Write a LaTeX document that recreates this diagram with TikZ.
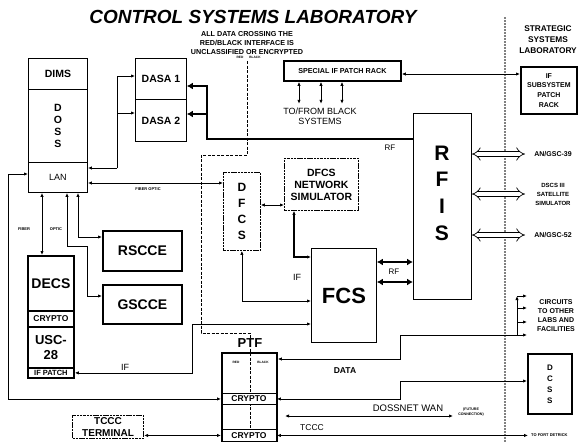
\documentclass[tikz,border=0pt]{standalone}
\usepackage{fontspec}
\setmainfont{Liberation Sans}
\usetikzlibrary{arrows.meta, positioning, calc}
\newcommand{\setfs}[2]{\fontsize{#1}{#2}\selectfont}
\tikzset{
  box/.style={draw=black, line width=0.9pt, inner sep=0pt, anchor=north west, align=center, font=\bfseries},
  heavy_box/.style={box, line width=1.8pt},
  scan_box/.style={box, line width=0.8pt, dash pattern=on 2.5pt off 0.8pt},
  tag/.style={inner sep=0pt, align=center},
  link/.style={line width=0.8pt},
  arrow/.style={link, -{Latex[length=4pt,width=3.4pt]}},
  biarrow/.style={link, {Latex[length=4pt,width=3.4pt]}-{Latex[length=4pt,width=3.4pt]}},
  rf_bus/.style={line width=2.4pt, -{Latex[length=6pt,width=7pt]}},
  rf_biarrow/.style={line width=2pt, {Latex[length=6pt,width=7pt]}-{Latex[length=6pt,width=7pt]}},
  hollow_arrow/.style={double, double distance=4pt, line width=0.7pt, {Implies}-{Implies}},
  red_black/.style={line width=0.7pt, dash pattern=on 3pt off 1.5pt},
  lab_border/.style={line width=1.6pt, line cap=round, dash pattern=on 0pt off 3pt}
}

\begin{document}
\begin{tikzpicture}[x=1pt, y=-1pt]
  \useasboundingbox[fill=white] (0,0) rectangle (579,442);

  % Title
  \node[tag, font=\bfseries\itshape\setfs{19}{22}] (title) at (253,17) {CONTROL SYSTEMS LABORATORY};
  \node[tag, font=\bfseries\setfs{7.2}{8.6}] (note) at (247,43) {ALL DATA CROSSING THE\\RED/BLACK INTERFACE IS\\UNCLASSIFIED OR ENCRYPTED};
  \node[tag, font=\bfseries\setfs{3.2}{4}] (red_top) at (240,57.5) {RED};
  \node[tag, font=\bfseries\setfs{3.2}{4}] (black_top) at (255,57.5) {BLACK};
  \node[tag, font=\bfseries\setfs{8.3}{11}] (strategic) at (548,40) {STRATEGIC\\SYSTEMS\\LABORATORY};

  % Lab borders
  \coordinate (border_top) at (505,18);
  \coordinate (border_bot) at (505,442);
  \draw[lab_border] (border_top) -- (border_bot);
  \coordinate (rb_top) at (247,61);
  \coordinate (rb_a) at (247,155);
  \coordinate (rb_b) at (201,155);
  \coordinate (rb_c) at (201,333);
  \coordinate (rb_d) at (250,333);
  \coordinate (rb_bot) at (250,441);
  \draw[red_black] (rb_top) -- (rb_a) -- (rb_b) -- (rb_c) -- (rb_d) -- (rb_bot);

  % DOSS stack
  \node[box, minimum width=59, minimum height=31, font=\bfseries\setfs{10.5}{12}] (dims) at (28,58) {DIMS};
  \node[box, minimum width=59, minimum height=73, font=\bfseries\setfs{10.5}{12}] (doss) at (28,89) {D\\O\\S\\S};
  \node[box, minimum width=59, minimum height=30, font=\setfs{9}{10}] (lan) at (28,162) {LAN};

  % DASA
  \node[box, minimum width=51, minimum height=41, font=\bfseries\setfs{10.5}{12}] (dasa1) at (135,58) {DASA 1};
  \node[box, minimum width=51, minimum height=42, font=\bfseries\setfs{10.5}{12}] (dasa2) at (135,99) {DASA 2};

  % Patch racks
  \node[heavy_box, minimum width=117, minimum height=20, font=\bfseries\setfs{7.2}{8}] (spec_rack) at (283,60) {SPECIAL IF PATCH RACK};
  \node[tag, font=\setfs{9}{10}] (black_sys) at (320,116) {TO/FROM BLACK\\SYSTEMS};
  \node[heavy_box, minimum width=56, minimum height=47, font=\bfseries\setfs{7}{9.7}] (if_rack) at (520,66) {IF\\SUBSYSTEM\\PATCH\\RACK};

  % RFIS
  \node[box, minimum width=58, minimum height=186] (rfis) at (413,113) {};
  \node[tag, font=\bfseries\setfs{21}{26.7}] (rfis_lbl) at (442,193) {R\\F\\I\\S};
  \node[tag, font=\bfseries\setfs{7}{8}] (gsc39) at (553,154) {AN/GSC-39};
  \node[tag, font=\bfseries\setfs{6}{9}] (dscs) at (553,194) {DSCS III\\SATELLITE\\SIMULATOR};
  \node[tag, font=\bfseries\setfs{7}{8}] (gsc52) at (553,235) {AN/GSC-52};

  % DFCS and FCS
  \node[scan_box, minimum width=37, minimum height=78, font=\bfseries\setfs{12}{16}] (dfcs) at (223,172) {D\\F\\C\\S};
  \node[scan_box, minimum width=74, minimum height=52, font=\bfseries\setfs{10.5}{12}] (dfcs_sim) at (284,158) {DFCS\\NETWORK\\SIMULATOR};
  \node[box, minimum width=65, minimum height=94, font=\bfseries\setfs{22}{24}] (fcs) at (311,248) {FCS};

  % Left side
  \node[heavy_box, minimum width=79, minimum height=40, font=\bfseries\setfs{14}{16}] (rscce) at (102,230) {RSCCE};
  \node[heavy_box, minimum width=79, minimum height=39, font=\bfseries\setfs{14}{16}] (gscce) at (102,284) {GSCCE};
  \node[heavy_box, minimum width=46, minimum height=55, font=\bfseries\setfs{14}{16}] (decs) at (27,255) {DECS};
  \node[heavy_box, minimum width=46, minimum height=16, font=\bfseries\setfs{8.5}{9}] (decs_crypto) at (27,310) {CRYPTO};
  \node[heavy_box, minimum width=46, minimum height=41, font=\bfseries\setfs{13}{15}] (usc) at (27,326) {USC-\\28};
  \node[heavy_box, minimum width=46, minimum height=10, font=\bfseries\setfs{7.5}{8}] (if_patch) at (27,367) {IF PATCH};
  \node[scan_box, line width=1.1pt, minimum width=71, minimum height=23, font=\bfseries\setfs{10}{12}] (tccc_term) at (72,415) {TCCC\\TERMINAL};

  % PTF
  \node[box, fill=white, minimum width=55, minimum height=11, font=\bfseries\setfs{8.5}{9}] (crypto_a) at (221,393) {CRYPTO};
  \node[box, fill=white, minimum width=55, minimum height=12, font=\bfseries\setfs{8.5}{9}] (crypto_b) at (221,429) {CRYPTO};
  \node[heavy_box, minimum width=55, minimum height=89] (ptf) at (221,352) {};
  \node[tag, font=\bfseries\setfs{13}{14}] (ptf_lbl) at (250,343) {PTF};
  \node[tag, font=\bfseries\setfs{3.2}{4}] (red_ptf) at (236,362) {RED};
  \node[tag, font=\bfseries\setfs{3.2}{4}] (black_ptf) at (263,362) {BLACK};
  \node[heavy_box, minimum width=44, minimum height=60, font=\bfseries\setfs{8}{11}] (dcss) at (527,353) {D\\C\\S\\S};
  \node[tag, font=\bfseries\setfs{7}{9}] (circuits) at (556,316) {CIRCUITS\\TO OTHER\\LABS AND\\FACILITIES};

  % Line labels
  \node[tag, font=\bfseries\setfs{4}{5}] (fiber_h) at (148,189) {FIBER OPTIC};
  \node[tag, font=\bfseries\setfs{4}{5}] (fiber_l) at (24,229) {FIBER};
  \node[tag, font=\bfseries\setfs{4}{5}] (fiber_r) at (56,229) {OPTIC};
  \node[tag, font=\setfs{8}{9}] (rf_lbl) at (390,148) {RF};
  \node[tag, font=\setfs{8}{9}] (rf_fcs) at (394,272) {RF};
  \node[tag, font=\setfs{9}{10}] (if_fcs) at (297,277) {IF};
  \node[tag, font=\setfs{9}{10}] (if_usc) at (125,367) {IF};
  \node[tag, font=\bfseries\setfs{8.5}{10}] (data_lbl) at (345,371) {DATA};
  \node[tag, font=\setfs{9.5}{10}] (wan_lbl) at (408,408) {DOSSNET WAN};
  \node[tag, font=\bfseries\setfs{3.6}{5}] (future_lbl) at (471,412) {(FUTURE\\CONNECTION)};
  \node[tag, font=\setfs{8.5}{10}] (tccc_lbl) at (312,428) {TCCC};
  \node[tag, anchor=west, font=\bfseries\setfs{4}{5}] (fort_lbl) at (531,435) {TO FORT DETRICK};

  % DOSS links
  \coordinate (dasa_bus) at (117,168);
  \coordinate (dasa1_in) at ($(dasa1.north west)+(0,18)$);
  \coordinate (dasa2_in) at ($(dasa2.north west)+(0,14)$);
  \draw[arrow] (dasa_bus) -- (dasa_bus -| lan.east);
  \draw[arrow] (dasa_bus) |- (dasa1_in);
  \draw[arrow] (dasa_bus |- dasa2_in) -- (dasa2_in);

  % RF bus
  \coordinate (rf_corner) at (207,139);
  \coordinate (dasa1_rf) at ($(dasa1.north east)+(0,28)$);
  \coordinate (dasa2_rf) at ($(dasa2.north east)+(0,15)$);
  \draw[rf_bus] (rfis.west |- rf_corner) -- (rf_corner) |- (dasa1_rf);
  \draw[rf_bus] (rf_corner |- dasa2_rf) -- (dasa2_rf);

  % Patch rack links
  \foreach \dx in {16,38,59} {
    \draw[biarrow] ($(spec_rack.south west)+(\dx,0)$) -- ++(0,22);
  }
  \coordinate (rack_link) at ($(spec_rack.north east)+(0,14)$);
  \draw[biarrow] (rack_link) -- (rack_link -| if_rack.west);

  % External links
  \coordinate (ext_a) at (525,154);
  \coordinate (ext_b) at (525,194);
  \coordinate (ext_c) at (525,235);
  \foreach \ext in {ext_a,ext_b,ext_c} {
    \draw[hollow_arrow] (\ext -| rfis.east) -- (\ext);
  }

  % DFCS links
  \coordinate (lan_fo) at ($(lan.north east)+(0,21)$);
  \draw[biarrow] (lan_fo) -- (lan_fo -| dfcs.west);
  \coordinate (dfcs_sim_in) at ($(dfcs.north east)+(0,33)$);
  \draw[biarrow] (dfcs_sim_in) -- (dfcs_sim_in -| dfcs_sim.west);
  \draw[biarrow, line width=1.4pt] ($(dfcs_sim.south west)+(10,0)$) |- ($(fcs.north west)+(0,9)$);
  \draw[biarrow] (dfcs.south) |- ($(fcs.north west)+(0,53)$);
  \coordinate (fcs_rf1) at ($(fcs.north east)+(0,14)$);
  \coordinate (fcs_rf2) at ($(fcs.north east)+(0,34)$);
  \draw[rf_biarrow] (fcs_rf1) -- (fcs_rf1 -| rfis.west);
  \draw[rf_biarrow] (fcs_rf2) -- (fcs_rf2 -| rfis.west);

  % LAN links
  \coordinate (lan_fiber) at ($(lan.south west)+(14,0)$);
  \draw[biarrow] (lan_fiber) -- (lan_fiber |- decs.north);
  \coordinate (lan_rs) at ($(lan.south west)+(50,0)$);
  \draw[biarrow] (lan_rs) |- ($(rscce.north west)+(0,7)$);
  \coordinate (lan_gs) at ($(lan.south west)+(39,0)$);
  \coordinate (gs_a) at (67,246);
  \coordinate (gs_b) at (87,246);
  \draw[biarrow] (lan_gs) -- (gs_a) -- (gs_b) |- ($(gscce.north west)+(0,12)$);

  % IF and loop links
  \coordinate (if_bend) at (192,324);
  \draw[biarrow] (if_patch.east) -| (if_bend) -- (if_bend -| fcs.west);
  \coordinate (loop_nw) at (8,174);
  \draw[biarrow] (loop_nw -| lan.west) -- (loop_nw) |- (crypto_a.west);
  \draw[biarrow] (crypto_b.west) -- (crypto_b.west -| tccc_term.east);

  % PTF links
  \coordinate (data_step) at (400,335);
  \coordinate (circ_top) at (517,296);
  \coordinate (circ_base) at (517,335);
  \draw[arrow] (circ_base) -- (circ_top);
  \draw[biarrow] ($(ptf.north east)+(0,7)$) -| (data_step) -- ($(circ_base)+(10,0)$);
  \foreach \dy in {0,12,26} {
    \draw[arrow] ($(circ_top)+(0,\dy)$) -- ++(10,0);
  }
  \coordinate (dcss_step) at (400,381);
  \draw[biarrow] (crypto_a.east) -| (dcss_step) -- (dcss_step -| dcss.west);
  \coordinate (wan_w) at (285,416);
  \coordinate (wan_e) at (453,416);
  \draw[biarrow] (wan_w) -- (wan_e);
  \coordinate (fort_tip) at (528,435);
  \draw[biarrow] (crypto_b.east) -- (crypto_b.east -| fort_tip);
\end{tikzpicture}
\end{document}
